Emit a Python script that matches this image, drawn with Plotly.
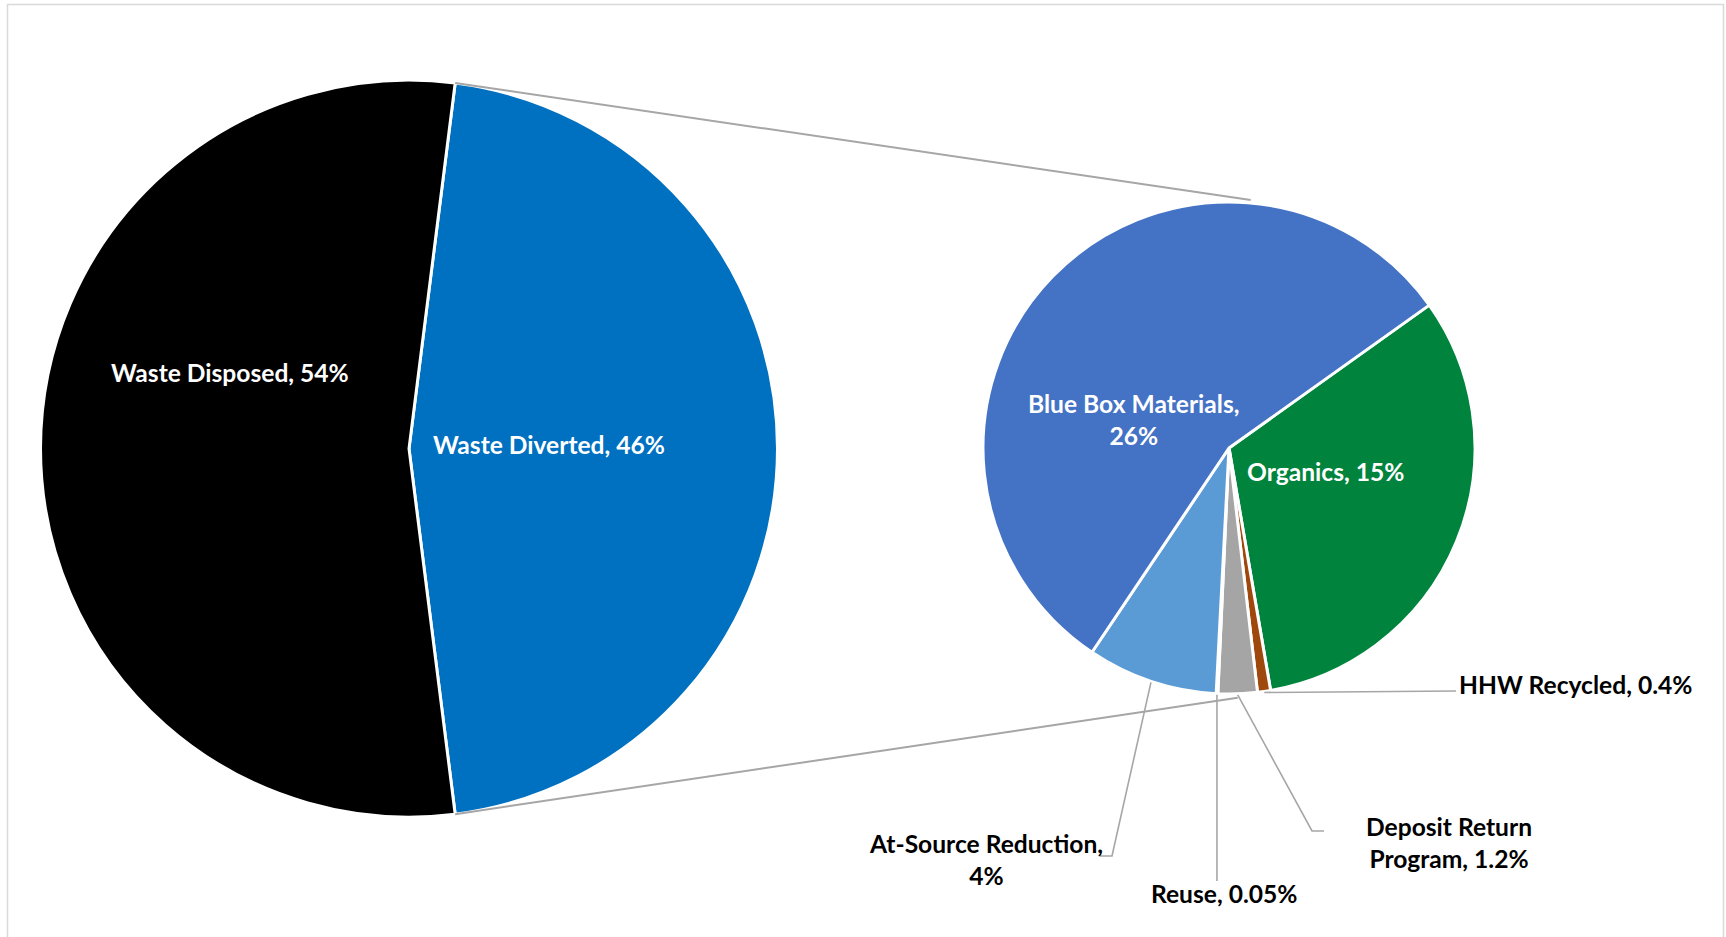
import math
import plotly.graph_objects as go

W, H = 1726, 937

# Overall split of the waste stream
main_labels = ["Waste Diverted", "Waste Disposed"]
main_values = [46, 54]
main_colors = ["#0070C0", "#000000"]

# How the diverted share breaks down
div_labels = ["Organics", "HHW Recycled", "Deposit Return Program", "Reuse",
              "At-Source Reduction", "Blue Box Materials"]
div_values = [15, 0.4, 1.2, 0.05, 4, 26]
div_colors = ["#00843D", "#9E480E", "#A5A5A5", "#264478", "#5B9BD5", "#4472C4"]

# pie placement in page pixels: centre x, centre y, radius
BIG = (409.0, 448.6, 368.5)
SMALL = (1229.0, 448.0, 246.0)
SMALL_ROTATION = 54.5

FONT = "Lato"
FONT_SIZE = 24.6
LINE_GREY = "#A6A6A6"


def px(x, y):
    return x / W, 1 - y / H


def domain(cx, cy, r):
    return dict(x=[(cx - r) / W, (cx + r) / W], y=[1 - (cy + r) / H, 1 - (cy - r) / H])


def on_circle(pie, ang, extra=0.0):
    cx, cy, r = pie
    a = math.radians(ang)
    return cx + (r + extra) * math.sin(a), cy - (r + extra) * math.cos(a)


def slice_angles(values, rotation):
    total = sum(values)
    out, a = [], rotation
    for v in values:
        span = 360.0 * v / total
        out.append((a, a + span))
        a += span
    return out


# the diverted slice is centred on 3 o'clock, facing the breakdown pie
big_rotation = 90 - 180.0 * main_values[0] / sum(main_values)
big_angles = slice_angles(main_values, big_rotation)
small_angles = slice_angles(div_values, SMALL_ROTATION)

fig = go.Figure()
fig.add_trace(go.Pie(
    labels=main_labels, values=main_values, sort=False, direction="clockwise",
    rotation=big_rotation, domain=domain(*BIG), textinfo="none",
    marker=dict(colors=main_colors, line=dict(color="white", width=3)),
    showlegend=False,
))
fig.add_trace(go.Pie(
    labels=div_labels, values=div_values, sort=False, direction="clockwise",
    rotation=SMALL_ROTATION, domain=domain(*SMALL), textinfo="none",
    marker=dict(colors=div_colors, line=dict(color="white", width=3)),
    showlegend=False,
))

shapes = []

# chart frame
shapes.append(dict(type="rect", xref="paper", yref="paper",
                   x0=7.5 / W, x1=1723.5 / W, y0=1 - 945 / H, y1=1 - 4.5 / H,
                   line=dict(color="#D9D9D9", width=1.5), fillcolor="rgba(0,0,0,0)",
                   layer="below"))


def path_shape(points, color=LINE_GREY, width=1.6):
    d = ""
    for i, (x, y) in enumerate(points):
        u, v = px(x, y)
        d += ("M" if i == 0 else " L") + f" {u:.5f} {v:.5f}"
    return dict(type="path", xref="paper", yref="paper", path=d,
                line=dict(color=color, width=width))


# series lines joining the diverted slice to the breakdown pie
top_start = on_circle(BIG, big_angles[0][0])
bot_start = on_circle(BIG, big_angles[0][1])
shapes.append(path_shape([top_start, on_circle(SMALL, 5, 3)], width=2))
shapes.append(path_shape([bot_start, on_circle(SMALL, 178, 4)], width=2))

# label layout: centre in page pixels, text colour, separator, leader elbow points
label_layout = {
    "Waste Disposed": dict(xy=(230, 372), color="white", sep=", "),
    "Waste Diverted": dict(xy=(549, 445), color="white", sep=", "),
    "Blue Box Materials": dict(xy=(1133, 419), color="white", sep=",<br>"),
    "Organics": dict(xy=(1325, 471), color="white", sep=", "),
    "HHW Recycled": dict(xy=(1575, 684), color="black", sep=", ",
                         leader=[(1456, 691)]),
    "Deposit Return Program": dict(xy=(1449, 842), color="black", sep=", ",
                                   text="Deposit Return<br>Program",
                                   leader=[(1312, 831), (1324, 831)]),
    "Reuse": dict(xy=(1224, 893), color="black", sep=", ",
                  leader=[(None, 881)]),
    "At-Source Reduction": dict(xy=(986, 859), color="black", sep=",<br>",
                                leader=[(1112, 856), (1100, 856)]),
}

annotations = []


def add_label(name, value, mid_angle=None):
    lay = label_layout[name]
    text = f"{lay.get('text', name)}{lay['sep']}{value:g}%"
    x, y = px(*lay["xy"])
    annotations.append(dict(
        x=x, y=y, xref="paper", yref="paper", text=text, showarrow=False,
        xanchor="center", yanchor="middle", align="center",
        font=dict(family=FONT, size=FONT_SIZE, color=lay["color"], weight="bold"),
    ))
    if "leader" in lay and mid_angle is not None:
        start = on_circle(SMALL, mid_angle, 1)
        pts = [start]
        for (lx, ly) in lay["leader"]:
            pts.append((start[0] if lx is None else lx, ly))
        shapes.append(path_shape(pts))


for name, val in zip(main_labels, main_values):
    add_label(name, val)
for name, val, (a0, a1) in zip(div_labels, div_values, small_angles):
    add_label(name, val, (a0 + a1) / 2)

fig.update_layout(
    width=W, height=H, margin=dict(l=0, r=0, t=0, b=0),
    paper_bgcolor="white", plot_bgcolor="white",
    shapes=shapes, annotations=annotations,
    font=dict(family=FONT),
)

fig.write_html("out.html")
